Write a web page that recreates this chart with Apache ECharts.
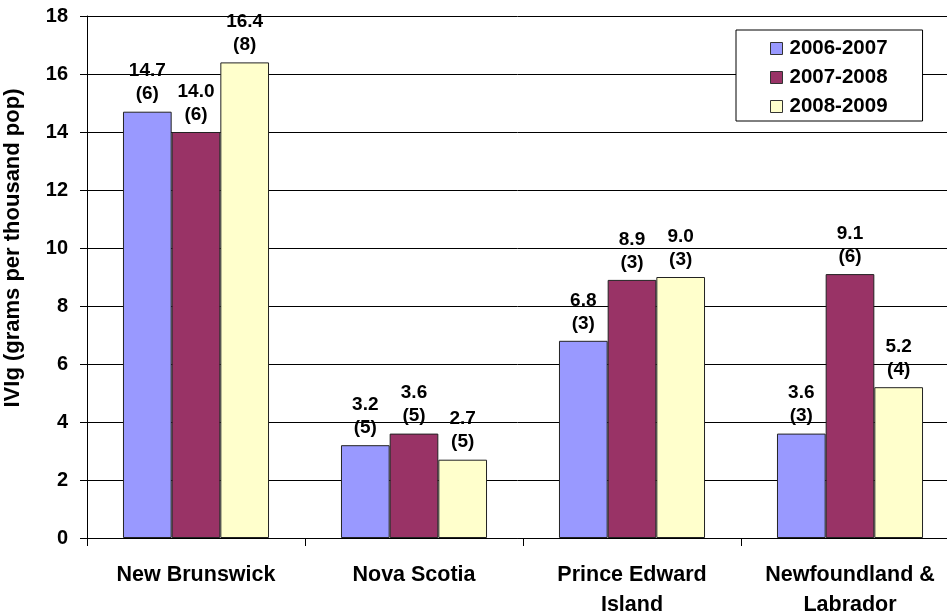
<!DOCTYPE html>
<html>
<head>
<meta charset="utf-8">
<script src="https://cdn.jsdelivr.net/npm/echarts@6/dist/echarts.min.js"></script>
<style>
  html, body { margin: 0; padding: 0; background: #fff; }
  #chart { width: 947px; height: 616px; }
</style>
</head>
<body>
<div id="chart"></div>
<script>
// Provinces on the category axis
const provinces = ['New Brunswick', 'Nova Scotia', 'Prince Edward\nIsland', 'Newfoundland &\nLabrador'];

// IVIg use (grams per thousand population) by fiscal year
const seriesNames = ['2006-2007', '2007-2008', '2008-2009'];
const use0607 = [14.7, 3.2, 6.8, 3.6];
const use0708 = [14.0, 3.6, 8.9, 9.1];
const use0809 = [16.4, 2.7, 9.0, 5.2];

// Counts shown in brackets under each value
const count0607 = [6, 5, 3, 3];
const count0708 = [6, 5, 3, 6];
const count0809 = [8, 5, 3, 4];

// Y axis range
const yMin = 0, yMax = 18, yStep = 2;

const colors = ['#9999FF', '#993366', '#FFFFCC'];
const FONT = 'Arial, "Liberation Sans", sans-serif';

function makeSeries(name, values, counts, color) {
  return {
    name: name,
    type: 'bar',
    data: values,
    barGap: '0%',
    barCategoryGap: '33%',
    itemStyle: { color: color, borderColor: '#222', borderWidth: 1 },
    label: {
      show: true,
      position: 'top',
      distance: 6,
      fontFamily: FONT,
      fontWeight: 'bold',
      fontSize: 19,
      lineHeight: 23,
      color: '#000',
      align: 'center',
      formatter: p => p.value.toFixed(1) + '\n(' + counts[p.dataIndex] + ')'
    }
  };
}

const chart = echarts.init(document.getElementById('chart'), null, { renderer: 'canvas' });
chart.setOption({
  animation: false,
  backgroundColor: '#fff',
  grid: { left: 87, right: -12, top: 16, bottom: 78, outerBoundsMode: 'none', containLabel: false },
  legend: {
    orient: 'vertical',
    left: 736,
    top: 30,
    backgroundColor: '#fff',
    borderColor: '#000',
    borderWidth: 1,
    padding: [8, 35, 4, 34],
    itemWidth: 12,
    itemHeight: 12,
    itemGap: 8,
    icon: 'rect',
    textStyle: { fontFamily: FONT, fontWeight: 'bold', fontSize: 20.5, color: '#000', padding: [0, 0, 0, 2] },
    itemStyle: { borderColor: '#333', borderWidth: 1 },
    data: seriesNames
  },
  xAxis: {
    type: 'category',
    data: provinces,
    axisLine: { lineStyle: { color: '#000', width: 1 } },
    axisTick: { show: true, length: 8, lineStyle: { color: '#000' } },
    axisLabel: {
      margin: 22,
      fontFamily: FONT,
      fontWeight: 'bold',
      fontSize: 21.5,
      lineHeight: 30,
      color: '#000',
      interval: 0
    }
  },
  yAxis: {
    type: 'value',
    min: yMin,
    max: yMax,
    interval: yStep,
    name: 'IVIg (grams per thousand pop)',
    nameLocation: 'middle',
    nameGap: 63,
    nameRotate: 90,
    nameTextStyle: { fontFamily: FONT, fontWeight: 'bold', fontSize: 22, color: '#000', padding: [0, 0, 0, 58] },
    axisLine: { show: true, lineStyle: { color: '#000', width: 1 } },
    axisTick: { show: true, length: 7, lineStyle: { color: '#000' } },
    axisLabel: {
      margin: 19,
      fontFamily: FONT,
      fontWeight: 'bold',
      fontSize: 20,
      color: '#000'
    },
    splitLine: { show: true, lineStyle: { color: '#000', width: 1 } }
  },
  series: [
    makeSeries(seriesNames[0], use0607, count0607, colors[0]),
    makeSeries(seriesNames[1], use0708, count0708, colors[1]),
    makeSeries(seriesNames[2], use0809, count0809, colors[2])
  ]
});
</script>
</body>
</html>
